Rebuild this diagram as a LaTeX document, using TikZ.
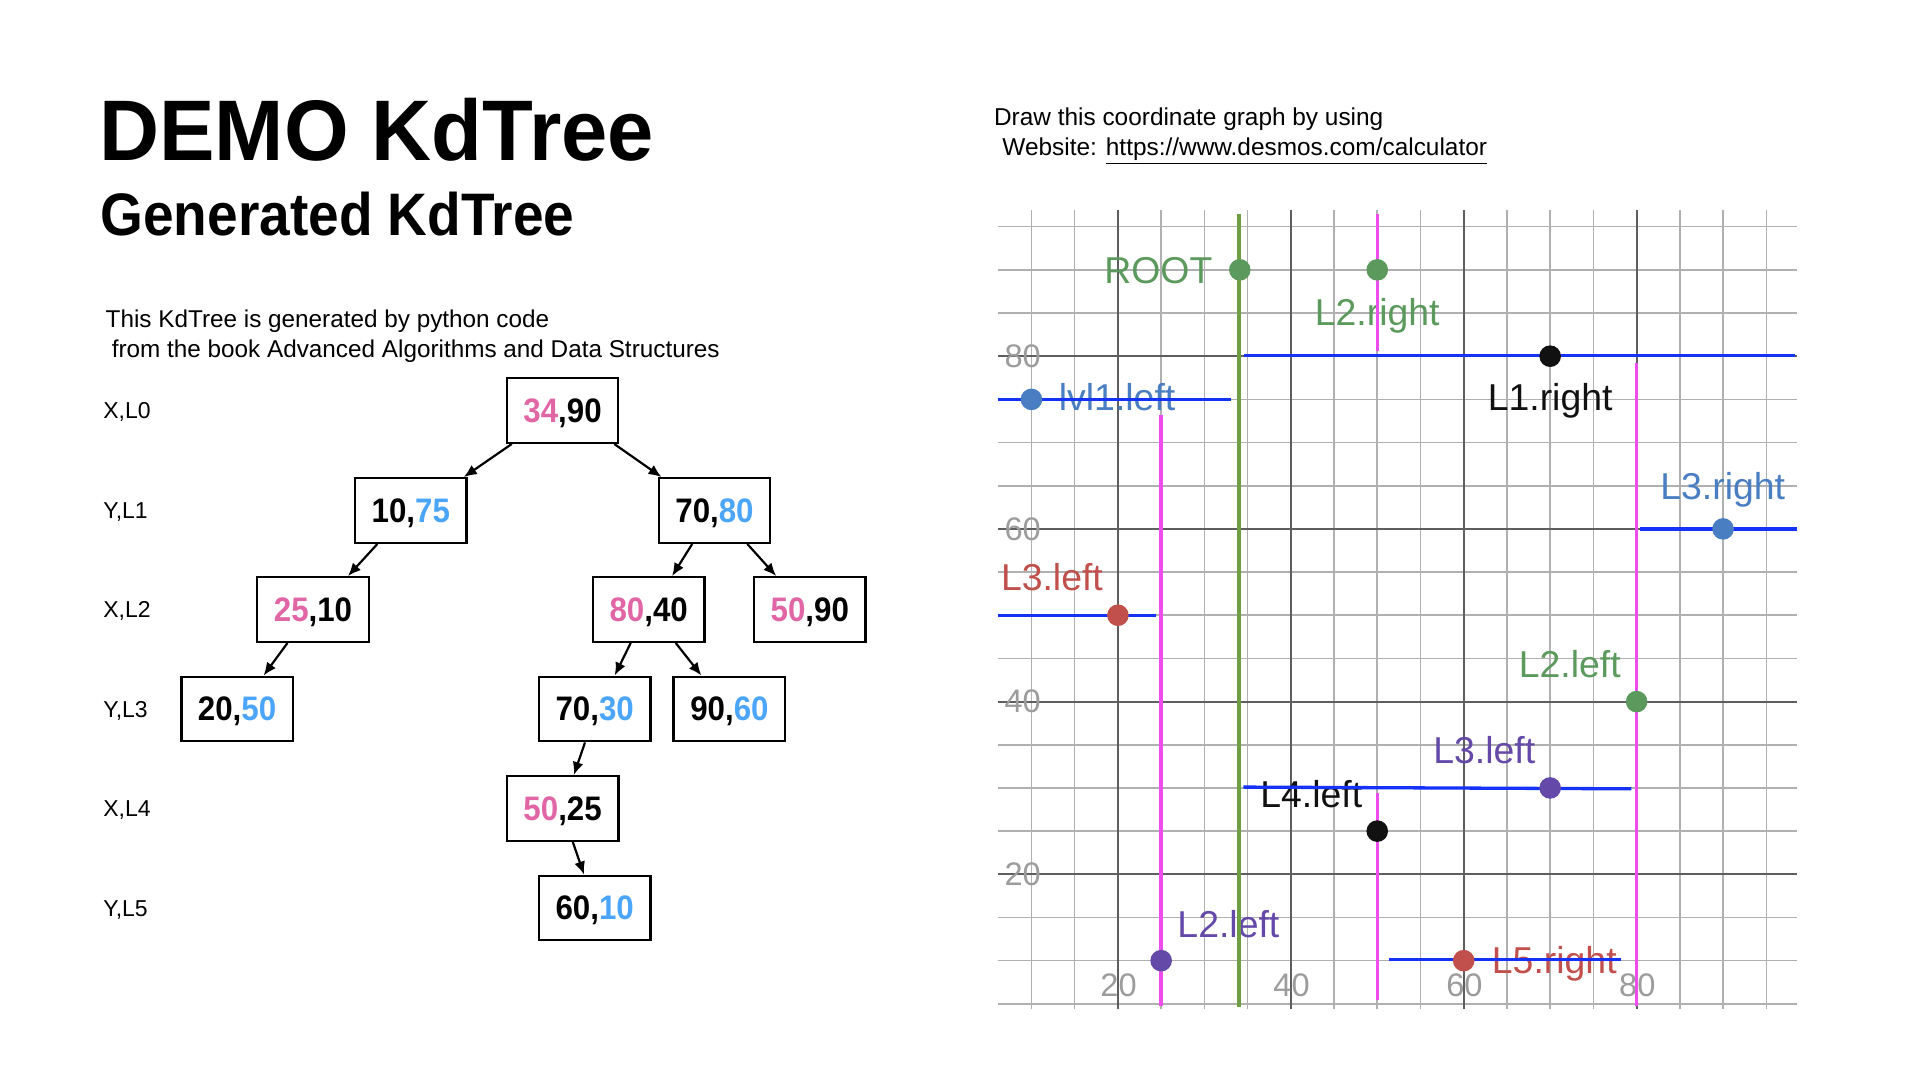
\documentclass[tikz,border=0pt]{standalone}
\usepackage{fontspec}
\setmainfont{Liberation Sans}
\newfontfamily\titlefont[FakeStretch=0.967]{Liberation Sans}
\newfontfamily\subfont[FakeStretch=0.917]{Liberation Sans}
\newfontfamily\boxfont[FakeStretch=0.92]{Liberation Sans}
\usetikzlibrary{arrows.meta,calc}

% tree colours
\definecolor{kpink}{HTML}{E066A6}
\definecolor{kblue}{HTML}{4BA5FA}
% plot colours
\definecolor{gridminor}{HTML}{B0B0B0}
\definecolor{gridmajor}{HTML}{5E5E5E}
\definecolor{axisnum}{HTML}{9C9C9C}
\definecolor{splitblue}{HTML}{1432F8}
\definecolor{splitmag}{HTML}{EE4DEE}
\definecolor{splitgreen}{HTML}{6E9E42}
\definecolor{ptgreen}{HTML}{5B9A5C}
\definecolor{ptred}{HTML}{C1504C}
\definecolor{ptblue}{HTML}{4A7EC2}
\definecolor{ptpurple}{HTML}{6549A9}
\definecolor{ptblack}{HTML}{111111}

\newcommand{\xk}[1]{\textcolor{kpink}{#1}}
\newcommand{\yk}[1]{\textcolor{kblue}{#1}}

\begin{document}
\begin{tikzpicture}[x=0.5pt,y=-0.5pt,
  kbox/.style={draw, line width=1.2pt, minimum width=55.75pt, minimum height=32.25pt,
    inner sep=0pt, text depth=0pt, font=\boxfont\bfseries\fontsize{17}{20}\selectfont},
  link/.style={line width=1.1pt, -{Latex[length=6.5pt,width=5.5pt]}},
  lvl/.style={anchor=base west, inner sep=0pt, font=\fontsize{11.5}{14}\selectfont},
  body/.style={anchor=base west, inner sep=0pt, font=\fontsize{12.15}{14}\selectfont},
  webtext/.style={anchor=base west, inner sep=0pt, font=\fontsize{12.2}{14}\selectfont},
  gminor/.style={draw=gridminor, line width=0.8pt},
  gmajor/.style={draw=gridmajor, line width=1pt},
  splitx/.style={draw=splitmag, line width=1.65pt},
  splity/.style={draw=splitblue, line width=1.65pt},
  plabel/.style={inner sep=0pt, font=\fontsize{18.7}{22}\selectfont},
  axnum/.style={inner sep=0pt, text=axisnum, font=\fontsize{16.3}{19}\selectfont},
  pt/.style={radius=5.4pt},
]
\useasboundingbox[fill=white] (0,0) rectangle (1920,1080);

% headings
\node[anchor=base west, inner sep=0pt, font=\titlefont\bfseries\fontsize{43}{50}\selectfont]
  (title) at (99,160.4) {DEMO KdTree};
\node[anchor=base west, inner sep=0pt, font=\subfont\bfseries\fontsize{30}{36}\selectfont]
  (subtitle) at (100.1,236) {Generated KdTree};
\node[body] (desc1) at (105.3,328) {This KdTree is generated by python code};
\node[body] (desc2) at (111.4,357.5) {from the book Advanced Algorithms and Data Structures};
\node[webtext] (web1) at (993.7,126) {Draw this coordinate graph by using};
\node[webtext] (web2) at (1002,155.5) {Website: \underline{https://www.desmos.com/calculator}};

% level captions
\node[lvl] (lv0) at (103,418.8) {X,L0};
\node[lvl] (lv1) at (103,518.8) {Y,L1};
\node[lvl] (lv2) at (103,617.8) {X,L2};
\node[lvl] (lv3) at (103,717.3) {Y,L3};
\node[lvl] (lv4) at (103,816.8) {X,L4};
\node[lvl] (lv5) at (103,916.3) {Y,L5};

% tree nodes
\node[kbox] (root)  at (562.5,410.5) {\xk{34},90};
\node[kbox] (n1075) at (410.8,510.5) {10,\yk{75}};
\node[kbox] (n7080) at (714.5,510.5) {70,\yk{80}};
\node[kbox] (n2510) at (313.0,609.5) {\xk{25},10};
\node[kbox] (n8040) at (648.7,609.5) {\xk{80},40};
\node[kbox] (n5090) at (809.8,609.5) {\xk{50},90};
\node[kbox] (n2050) at (237.1,709)   {20,\yk{50}};
\node[kbox] (n7030) at (594.7,709)   {70,\yk{30}};
\node[kbox] (n9060) at (729.4,709)   {90,\yk{60}};
\node[kbox] (n5025) at (562.6,808.5) {\xk{50},25};
\node[kbox] (n6010) at (594.7,908)   {60,\yk{10}};

% tree edges
\draw[link] ($(root.south)+(-50.7,0)$)  -- ($(n1075.north)+(53,0)$);
\draw[link] ($(root.south)+(51.7,0)$)   -- ($(n7080.north)+(-53,0)$);
\draw[link] ($(n1075.south)+(-33.4,0)$) -- ($(n2510.north)+(35,0)$);
\draw[link] ($(n7080.south)+(-22.3,0)$) -- ($(n8040.north)+(23.4,0)$);
\draw[link] ($(n7080.south)+(32.8,0)$)  -- ($(n5090.north)+(-33.6,0)$);
\draw[link] ($(n2510.south)+(-25.5,0)$) -- ($(n2050.north)+(26.5,0)$);
\draw[link] ($(n8040.south)+(-18,0)$)   -- ($(n7030.north)+(20,0)$);
\draw[link] ($(n8040.south)+(27,0)$)    -- ($(n9060.north)+(-28,0)$);
\draw[link] ($(n7030.south)+(-9.7,0)$)  -- ($(n5025.north)+(11.2,0)$);
\draw[link] ($(n5025.south)+(10.2,0)$)  -- ($(n6010.north)+(-10.7,0)$);

% coordinate plot, one unit per data unit
\begin{scope}[shift={(472.5pt,-523.5pt)}, x=4.3225pt, y=4.3175pt]
  % grid
  \foreach \v in {5,10,15,25,30,35,45,50,55,65,70,75,85,90,95}
    \draw[gminor] (6.1,\v) -- (98.6,\v);
  \foreach \v in {10,15,25,30,35,45,50,55,65,70,75,85,90,95}
    \draw[gminor] (\v,4.4) -- (\v,96.9);
  \foreach \v in {20,40,60,80} {
    \draw[gmajor] (6.1,\v) -- (98.6,\v);
    \draw[gmajor] (\v,4.4) -- (\v,96.9);
  }
  % axis numbers
  \foreach \v in {20,40,60,80} {
    \node[axnum] at (8.98,\v) {\v};
    \node[axnum] at (\v+0.08,7.18) {\v};
  }

  % point labels
  \node[plabel, anchor=base east, text=ptgreen]  (lbroot) at (30.97,88.44) {ROOT};
  \node[plabel, anchor=base, text=ptgreen]       (lbl2r)  at (50.0,83.6)   {L2.right};
  \node[plabel, anchor=base, text=ptblack]       (lbl1r)  at (70.0,73.7)   {L1.right};
  \node[plabel, anchor=base west, text=ptblue]   (lbl1l)  at (13.13,73.7)  {lvl1.left};
  \node[plabel, anchor=base, text=ptblue]        (lbl3r)  at (89.96,63.4)  {L3.right};
  \node[plabel, anchor=base, text=ptred]         (lbl3l)  at (12.37,52.85) {L3.left};
  \node[plabel, anchor=base, text=ptgreen]       (lbl2l)  at (72.26,42.8)  {L2.left};
  \node[plabel, anchor=base, text=ptpurple]      (lbl3lb) at (62.37,32.85) {L3.left};
  \node[plabel, anchor=base, text=ptblack]       (lbl4l)  at (42.37,27.76) {L4.left};
  \node[plabel, anchor=base, text=ptpurple]      (lbl2lb) at (32.78,12.70) {L2.left};
  \node[plabel, anchor=base, text=ptred]         (lbl5r)  at (70.48,8.53)  {L5.right};

  % splitting lines on x
  \draw[draw=splitgreen, line width=1.75pt] (34,96.5) -- (34,4.6);
  \draw[splitx] (50,96.5) -- (50,80.6);
  \draw[splitx] (80,79.2) -- (80,4.8);
  \draw[splitx] (25,73.2) -- (25,4.8);
  \draw[splitx] (50,29.4) -- (50,5.4);
  % splitting lines on y
  \draw[splity] (34.6,80.06) -- (98.3,80.06);
  \draw[splity] (6.1,75) -- (33.1,75);
  \draw[splity] (80.4,60) -- (98.5,60);
  \draw[splity] (6.1,50) -- (24.4,50);
  \draw[splity] (34.5,30.1) -- (79.4,29.9);
  \draw[splity] (51.4,10.1) -- (78.2,10.1);

  % data points
  \fill[ptgreen]  (34.1,90) circle[pt];
  \fill[ptgreen]  (50,90)   circle[pt];
  \fill[ptblack]  (70,80)   circle[pt];
  \fill[ptblue]   (10,75)   circle[pt];
  \fill[ptblue]   (90,60)   circle[pt];
  \fill[ptred]    (20,50)   circle[pt];
  \fill[ptgreen]  (80,40)   circle[pt];
  \fill[ptpurple] (70,30)   circle[pt];
  \fill[ptblack]  (50,25)   circle[pt];
  \fill[ptpurple] (25,10)   circle[pt];
  \fill[ptred]    (60,10)   circle[pt];
\end{scope}
\end{tikzpicture}
\end{document}
